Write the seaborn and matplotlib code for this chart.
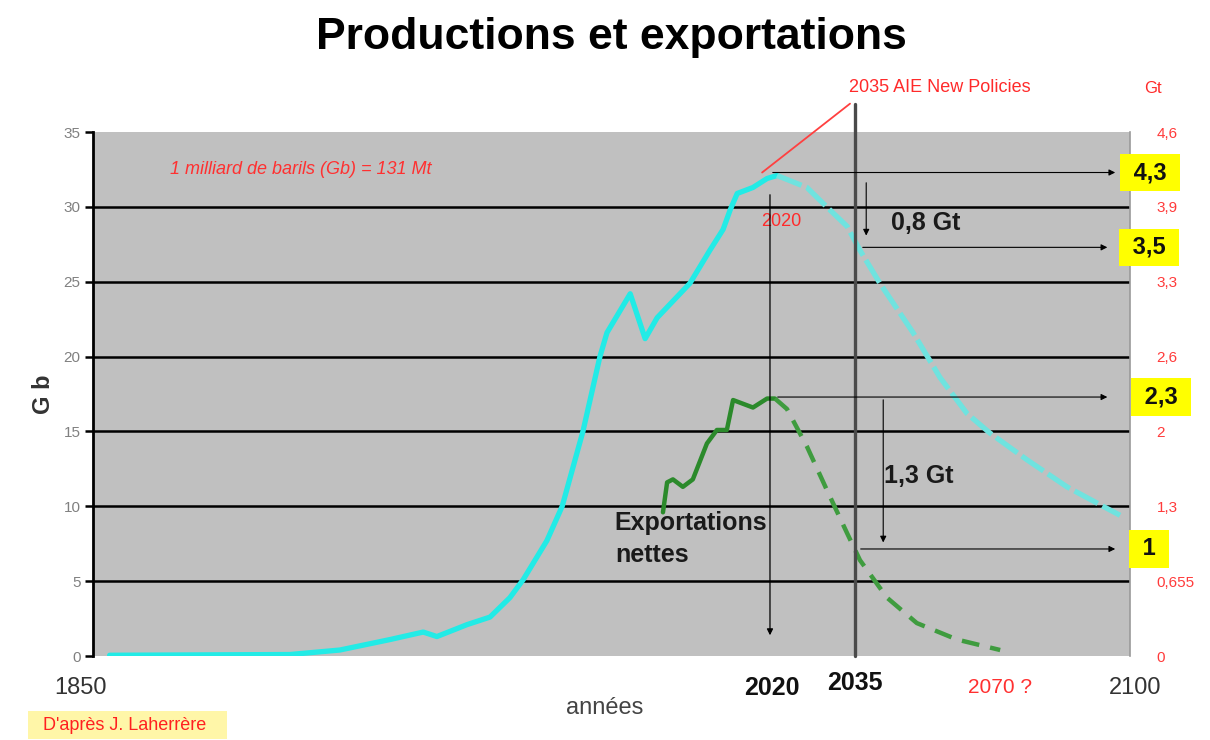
import numpy as np
import pandas as pd
import matplotlib
matplotlib.use('Agg')
import matplotlib.pyplot as plt
import seaborn as sns

# production (Gb/an), historique puis projection
prod_years = [1854, 1897.5, 1909.5, 1921.6, 1929.6, 1932.9, 1940.2, 1945.7, 1950.5, 1953.7,
              1959.4, 1963.1, 1968.1, 1972.2, 1973.9, 1979.5, 1983.1, 1986.0, 1993.9, 1998.7,
              2001.9, 2003.6, 2005.3, 2009.1, 2012.5, 2014.9]
prod_vals = [0.05, 0.1, 0.4, 1.1, 1.6, 1.3, 2.1, 2.6, 3.9, 5.1,
             7.7, 10.0, 15.0, 20.0, 21.6, 24.2, 21.2, 22.6, 24.9, 27.1,
             28.5, 29.8, 30.9, 31.3, 31.9, 32.1]
proj_years = [2014.9, 2022.1, 2026.9, 2031.8, 2034.9, 2039.7, 2047.7, 2054.2, 2060.7,
              2066.2, 2075.2, 2084.8, 2093.5, 2097.6]
proj_vals = [32.1, 31.3, 30.0, 28.7, 27.1, 24.9, 21.6, 18.6, 16.2,
             14.9, 13.1, 11.3, 10.0, 9.4]

# exportations nettes
exp_years = [1987.4, 1988.4, 1989.8, 1992.2, 1994.6, 1998.0, 2000.4, 2002.8, 2004.3,
             2009.1, 2012.5, 2014.4]
exp_vals = [9.6, 11.6, 11.8, 11.3, 11.8, 14.2, 15.1, 15.1, 17.1, 16.6, 17.2, 17.2]
exp_proj_years = [2014.4, 2017.3, 2022.1, 2026.9, 2031.8, 2034.9, 2041.4, 2048.6, 2058.3, 2068.7]
exp_proj_vals = [17.2, 16.5, 14.0, 11.1, 8.2, 6.4, 3.9, 2.2, 1.1, 0.4]

left_ticks = [0, 5, 10, 15, 20, 25, 30, 35]
right_labels = ['0', '0,655', '1,3', '2', '2,6', '3,3', '3,9', '4,6']

year_2020 = 2013.2   # position of the "2020" marker on the drawing
year_2035 = 2033.7
top_gb = 32.3
gb_2035 = 27.3
exp_top = 17.3
exp_2035 = 7.15

boxes = ['4,3', '3,5', '2,3', '1']
box_y = [top_gb, gb_2035, exp_top, exp_2035]

sns.set_style('white')
plt.rcParams['font.family'] = ['Liberation Sans', 'DejaVu Sans']

fig = plt.figure(figsize=(12.1, 7.4), dpi=100)
ax = fig.add_axes([0.0769, 0.1135, 0.857, 0.708])
ax.set_facecolor('#c0c0c0')

for y in left_ticks[1:-1]:
    ax.axhline(y, color='black', lw=1.8, zorder=1)

sns.lineplot(x=prod_years, y=prod_vals, ax=ax, color='#22ebe6', lw=3.8, zorder=5)
sns.lineplot(x=proj_years, y=proj_vals, ax=ax, color='#6fe3df', lw=3.8,
             linestyle=(0, (5, 1)), zorder=5)
sns.lineplot(x=exp_years, y=exp_vals, ax=ax, color='#2b8a2b', lw=3.2, zorder=5)
sns.lineplot(x=exp_proj_years, y=exp_proj_vals, ax=ax, color='#3f9c3f', lw=3.2,
             linestyle=(0, (4, 2.5)), zorder=5)

ax.set_xlim(1850, 2100)
ax.set_ylim(0, 35)

# vertical markers
ax.plot([year_2035, year_2035], [0, 36.9], color='#4a4a4a', lw=2.4, clip_on=False, zorder=6)
ax.plot([2011.3, 2032.5], [top_gb, 36.9], color='#ff4040', lw=1.3, clip_on=False, zorder=6)
ax.annotate('', xy=(year_2020, 1.2), xytext=(year_2020, 31.0),
            arrowprops=dict(arrowstyle='-|>', color='black', lw=0.9, mutation_scale=9), zorder=7)

arrows = [((year_2020, top_gb), (2097.1, top_gb)),
          ((2036.4, 31.8), (2036.4, 27.9)),
          ((2034.9, gb_2035), (2095.2, gb_2035)),
          ((2014.4, exp_top), (2095.2, exp_top)),
          ((2040.5, exp_top), (2040.5, 7.4)),
          ((2034.4, exp_2035), (2097.1, exp_2035))]
for start, end in arrows:
    ax.annotate('', xy=end, xytext=start,
                arrowprops=dict(arrowstyle='-|>', color='black', lw=0.8, mutation_scale=9), zorder=7)

ax.text(2042.3, 28.9, '0,8 Gt', fontsize=18, fontweight='bold', color='#1a1a1a', ha='left', va='center')
ax.text(2040.8, 12.0, '1,3 Gt', fontsize=18, fontweight='bold', color='#1a1a1a', ha='left', va='center')
ax.text(1975.8, 7.8, 'Exportations\nnettes', fontsize=18, fontweight='bold', color='#1a1a1a',
        ha='left', va='center', linespacing=1.4)
ax.text(2016.0, 29.0, '2020', fontsize=13, color='#ff2a2a', ha='center', va='center')
ax.text(1868.5, 32.5, '1 milliard de barils (Gb) = 131 Mt', fontsize=13, fontstyle='italic',
        color='#ff3030', ha='left', va='center')
ax.text(2054.2, 38.0, '2035 AIE New Policies', fontsize=13, color='#ff2a2a',
        ha='center', va='center', clip_on=False)
ax.text(2105.5, 37.9, 'Gt', fontsize=12, color='#ff2a2a', ha='center', va='center', clip_on=False)

box_x = [2104.8, 2104.6, 2107.5, 2104.6]
for label, bx, by in zip(boxes, box_x, box_y):
    ax.text(bx, by, ' ' + label + ' ', fontsize=17, fontweight='bold', color='#111111',
            ha='center', va='center', clip_on=False, zorder=8,
            bbox=dict(boxstyle='square,pad=0.3', facecolor='#ffff00', edgecolor='none'))

# left axis
ax.set_yticks(left_ticks)
ax.set_yticklabels([str(t) for t in left_ticks], color='#808080', fontsize=11)
ax.tick_params(axis='y', direction='out', length=6, width=1.8, color='black', pad=3, left=True)
ax.set_xticks([])
ax.set_ylabel('G b', fontsize=17, fontweight='bold', color='#333333', labelpad=6)
for s in ['top', 'bottom']:
    ax.spines[s].set_visible(False)
ax.spines['left'].set_color('black')
ax.spines['left'].set_linewidth(2)
ax.spines['right'].set_color('#9a9a9a')
ax.spines['right'].set_linewidth(1.2)

# right axis in Gt
ax2 = ax.twinx()
ax2.set_ylim(0, 35)
ax2.set_yticks(left_ticks)
ax2.set_yticklabels(right_labels, color='#ff3b3b', fontsize=11)
ax2.tick_params(axis='y', length=0, pad=19)
for s in ax2.spines.values():
    s.set_visible(False)

# x labels
x_labels = ['1850', '2020', '2035', '2070 ?', '2100', 'années']
x_pos = [1846.9, 2013.7, 2033.7, 2068.7, 2101.2, 1973.4]
x_ypos = [-0.061, -0.061, -0.052, -0.061, -0.061, -0.099]
x_colors = ['#333333', '#111111', '#111111', '#ff3030', '#333333', '#444444']
x_weights = ['normal', 'bold', 'bold', 'normal', 'normal', 'normal']
x_sizes = [17, 18, 18, 15, 17, 17]
trans = matplotlib.transforms.blended_transform_factory(ax.transData, ax.transAxes)
for lab, xp, yp, c, w, fs in zip(x_labels, x_pos, x_ypos, x_colors, x_weights, x_sizes):
    ax.text(xp, yp, lab, transform=trans, ha='center', va='center', color=c,
            fontweight=w, fontsize=fs, clip_on=False)

fig.text(0.505, 0.949, 'Productions et exportations', ha='center', va='center',
         fontsize=32, fontweight='bold', color='black')
fig.text(0.105, 0.02, "  D'après J. Laherrère   ", ha='center', va='center', fontsize=13,
         color='#ff2020', bbox=dict(boxstyle='square,pad=0.3', facecolor='#fff6a8', edgecolor='none'))

fig.savefig('out.png', dpi=100)
